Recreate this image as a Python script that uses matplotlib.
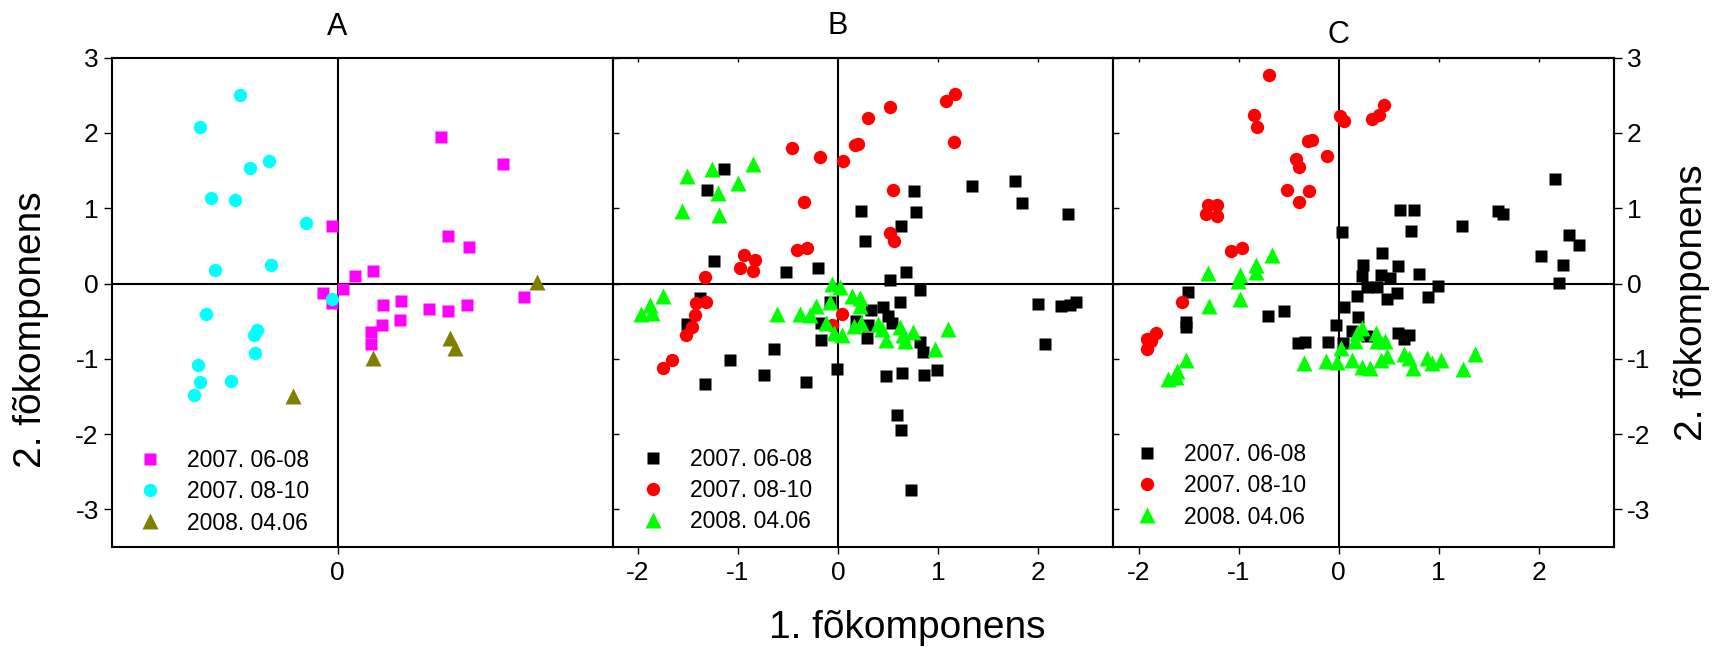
"""
PCA score plots (A, B, C) - three side by side panels, 1. vs 2. fokomponens.
"""
import matplotlib
matplotlib.use("Agg")
import matplotlib.pyplot as plt

plt.rcParams["font.family"] = ["Liberation Sans", "DejaVu Sans"]
plt.rcParams["axes.unicode_minus"] = False

LABELS = ["2007. 06-08", "2007. 08-10", "2008. 04.06"]
PANEL_TITLES = ["A", "B", "C"]
AXIS_LABEL_X = "1. fõkomponens"
AXIS_LABEL_Y = "2. fõkomponens"
Y_TICKS = [-3, -2, -1, 0, 1, 2, 3]
X_TICKS_A = [0]
X_TICKS_BC = [-2, -1, 0, 1, 2]

# --- panel A ---
a_sq_x = [1.03, 1.65, -0.06, 1.10, 1.31, 0.17, 0.35, 0.05, -0.15, -0.06,
          0.45, 0.63, 0.44, 0.62, 0.33, 0.33, 0.91, 1.10, 1.29, 1.86]
a_sq_y = [1.95, 1.59, 0.77, 0.63, 0.48, 0.10, 0.17, -0.07, -0.13, -0.26,
          -0.29, -0.23, -0.55, -0.49, -0.64, -0.80, -0.34, -0.37, -0.28, -0.18]
a_ci_x = [-0.98, -1.38, -0.88, -0.69, -1.27, -1.03, -0.32, -1.23, -0.67, -0.06,
          -1.32, -0.81, -0.84, -0.83, -1.40, -1.38, -1.07, -1.44]
a_ci_y = [2.51, 2.08, 1.54, 1.63, 1.14, 1.11, 0.81, 0.18, 0.25, -0.20,
          -0.41, -0.62, -0.69, -0.92, -1.08, -1.31, -1.29, -1.48]
a_tr_x = [1.99, 0.35, 1.12, 1.17, -0.45]
a_tr_y = [0.02, -0.99, -0.73, -0.85, -1.50]

# --- panel B ---
b_sq_x = [-1.14, -1.31, 0.76, 1.34, 1.77, 1.84, 2.30, 0.23, 0.78, 0.63,
          0.27, -1.24, -0.52, -0.20, 0.68, 0.52, 0.82, 0.62, -0.08, 2.00,
          2.23, 2.32, 2.38, 2.07, 0.33, 0.45, 0.50, 0.54, 0.30, 0.18,
          -0.17, -0.17, 0.29, 0.82, 0.85, -1.38, -1.51, -0.64, -1.08, -1.33,
          -0.74, -0.32, -0.01, 0.48, 0.64, 0.86, 0.99, 0.59, 0.63, 0.73]
b_sq_y = [1.52, 1.24, 1.23, 1.30, 1.36, 1.07, 0.93, 0.97, 0.95, 0.76,
          0.56, 0.30, 0.15, 0.21, 0.15, 0.05, -0.08, -0.24, -0.25, -0.27,
          -0.30, -0.28, -0.24, -0.80, -0.35, -0.31, -0.43, -0.52, -0.55, -0.50,
          -0.52, -0.75, -0.72, -0.78, -0.91, -0.19, -0.54, -0.87, -1.01, -1.33,
          -1.22, -1.31, -1.13, -1.23, -1.19, -1.21, -1.15, -1.75, -1.95, -2.74]
b_ci_x = [1.17, 1.08, 0.52, 0.30, 1.16, -0.46, -0.18, 0.05, 0.17, 0.20,
          0.55, -0.34, 0.52, 0.56, -0.41, -0.31, -0.94, -0.83, -0.98, -0.85,
          -1.33, -1.42, -1.32, -1.43, -1.46, -1.52, -1.66, -1.75, 0.04, -0.06]
b_ci_y = [2.52, 2.42, 2.35, 2.20, 1.88, 1.80, 1.68, 1.63, 1.84, 1.85,
          1.24, 1.08, 0.67, 0.56, 0.45, 0.47, 0.38, 0.31, 0.20, 0.16,
          0.09, -0.26, -0.24, -0.42, -0.58, -0.68, -1.02, -1.12, -0.40, -0.55]
b_tr_x = [-1.51, -1.26, -0.85, -1.00, -1.20, -1.56, -1.19, -1.75, -1.88, -1.86,
          -1.97, -0.61, -0.38, -0.28, -0.22, -0.06, 0.02, -0.08, 0.14, 0.22,
          0.22, -0.12, -0.04, 0.04, 0.16, 0.23, 0.40, 0.44, 0.48, 0.62,
          0.65, 0.75, 0.67, 0.97, 1.10]
b_tr_y = [1.43, 1.52, 1.59, 1.33, 1.20, 0.97, 0.91, -0.16, -0.29, -0.39,
          -0.40, -0.41, -0.40, -0.42, -0.30, 0.00, -0.04, -0.24, -0.16, -0.19,
          -0.30, -0.52, -0.66, -0.68, -0.56, -0.52, -0.54, -0.60, -0.75, -0.58,
          -0.68, -0.65, -0.77, -0.87, -0.61]

# --- panel C ---
c_sq_x = [2.16, 0.61, 0.75, 1.59, 1.64, 1.23, 0.72, 0.03, 2.30, 2.40,
          2.02, 2.24, 2.20, 0.43, 0.24, 0.59, 0.80, 0.23, 0.42, 0.51,
          0.28, 0.38, 0.99, 0.58, 0.48, 0.18, 0.89, -1.51, -1.53, -1.53,
          0.05, 0.19, -0.03, -0.71, -0.55, -0.41, -0.34, -0.11, 0.04, 0.13,
          0.28, 0.59, 0.65, 0.70]
c_sq_y = [1.39, 0.98, 0.98, 0.96, 0.92, 0.77, 0.70, 0.69, 0.64, 0.51,
          0.37, 0.24, 0.01, 0.40, 0.24, 0.23, 0.12, 0.10, 0.11, 0.07,
          -0.04, -0.05, -0.03, -0.12, -0.20, -0.17, -0.18, -0.11, -0.51, -0.58,
          -0.31, -0.45, -0.55, -0.43, -0.37, -0.79, -0.78, -0.78, -0.79, -0.63,
          -0.70, -0.66, -0.74, -0.68]
c_ci_x = [-0.70, -0.85, -0.82, 0.01, 0.05, 0.33, 0.40, 0.45, -0.31, -0.27,
          -0.43, -0.40, -0.12, -0.52, -0.30, -0.40, -1.31, -1.22, -1.33, -1.22,
          -1.08, -0.97, -1.57, -1.83, -1.88, -1.92, -1.92]
c_ci_y = [2.77, 2.24, 2.08, 2.22, 2.16, 2.18, 2.24, 2.37, 1.89, 1.91,
          1.65, 1.55, 1.70, 1.24, 1.23, 1.08, 1.04, 1.04, 0.93, 0.90,
          0.43, 0.47, -0.24, -0.66, -0.77, -0.87, -0.74]
c_tr_x = [-0.67, -0.83, -0.83, -0.99, -1.01, -1.31, -0.99, -1.30, -1.53, -1.62,
          -1.63, -1.71, 0.23, 0.18, 0.16, 0.37, 0.38, 0.46, 0.02, -0.35,
          -0.13, -0.02, 0.13, 0.23, 0.31, 0.42, 0.48, 0.65, 0.70, 0.74,
          0.88, 0.93, 1.02, 1.24, 1.36]
c_tr_y = [0.38, 0.24, 0.15, 0.11, 0.04, 0.14, -0.20, -0.30, -1.02, -1.16,
          -1.24, -1.27, -0.59, -0.66, -0.76, -0.66, -0.77, -0.77, -0.86, -1.05,
          -1.03, -1.04, -1.02, -1.11, -1.12, -1.01, -0.96, -0.94, -0.99, -1.12,
          -0.99, -1.06, -1.01, -1.13, -0.93]

COLORS_A = ["#ff00ff", "#00ffff", "#808000"]
COLORS_BC = ["#000000", "#ff0000", "#00ff00"]
MARKERS = [("s", 8.5), ("o", 9.6), ("^", 11.0)]

W, H = 1717, 653
XLIM = (-2.255, 2.75)
YLIM = (-3.5, 3.0)
PANEL_LEFT = [112, 612.5, 1113.3]
PANEL_W = 500.5
PANEL_TOP, PANEL_BOTTOM = 57.7, 547
TICK_FS = 19
LEG_FS = 16.5


def draw_panel(ax, series, colors, legend_xy):
    for (xs, ys), col, (mk, ms), lab in zip(series, colors, MARKERS, LABELS):
        ax.plot(xs, ys, ls="none", marker=mk, ms=ms, color=col, mec="none",
                label=lab, zorder=3)
    ax.axhline(0, color="k", lw=1.5, zorder=1)
    ax.axvline(0, color="k", lw=1.5, zorder=1)
    ax.set_xlim(*XLIM)
    ax.set_ylim(*YLIM)
    for sp in ax.spines.values():
        sp.set_linewidth(1.5)
    lx, ly = legend_xy
    ax.legend(loc="upper left", bbox_to_anchor=(lx / W, 1 - ly / H),
              bbox_transform=ax.figure.transFigure, frameon=False,
              fontsize=LEG_FS, handlelength=1.0, handletextpad=1.1,
              labelspacing=0.36, borderpad=0, borderaxespad=0, numpoints=1)


fig = plt.figure(figsize=(W / 100, H / 100), dpi=100)
axes = []
for left in PANEL_LEFT:
    axes.append(fig.add_axes([left / W, 1 - PANEL_BOTTOM / H, PANEL_W / W,
                              (PANEL_BOTTOM - PANEL_TOP) / H]))
ax_a, ax_b, ax_c = axes

draw_panel(ax_a, [(a_sq_x, a_sq_y), (a_ci_x, a_ci_y), (a_tr_x, a_tr_y)],
           COLORS_A, (139, 449))
draw_panel(ax_b, [(b_sq_x, b_sq_y), (b_ci_x, b_ci_y), (b_tr_x, b_tr_y)],
           COLORS_BC, (642, 448))
draw_panel(ax_c, [(c_sq_x, c_sq_y), (c_ci_x, c_ci_y), (c_tr_x, c_tr_y)],
           COLORS_BC, (1136, 443))

# panel A: labelled y axis on the left, single x tick
ax_a.set_yticks(Y_TICKS)
ax_a.set_xticks(X_TICKS_A)
ax_a.tick_params(axis="y", direction="out", length=6, width=1,
                 labelsize=TICK_FS, pad=3.5)
ax_a.tick_params(axis="x", direction="out", length=5, width=1,
                 labelsize=TICK_FS, pad=5)

for ax in (ax_b, ax_c):
    ax.set_xticks(X_TICKS_BC)
    ax.set_yticks(Y_TICKS)
    ax.tick_params(axis="x", direction="out", length=5, width=1,
                   labelsize=TICK_FS, pad=5)
    ax.tick_params(axis="y", direction="in", length=4, width=1,
                   labelleft=False)
    top = ax.secondary_xaxis("top")
    top.set_xticks([-2, -1, 1, 2])
    top.tick_params(direction="in", length=3, width=1, labeltop=False)
    top.spines["top"].set_linewidth(1.5)

right = ax_c.secondary_yaxis("right")
right.set_yticks(Y_TICKS)
right.tick_params(direction="out", length=6, width=1, labelsize=TICK_FS,
                  pad=3.5)
right.spines["right"].set_linewidth(1.5)

# titles and axis labels
for ax, title, ty in zip(axes, PANEL_TITLES, [27, 26, 35]):
    fig.text(ax.get_position().x0 + 225.5 / W, 1 - ty / H, title,
             fontsize=22, ha="center", va="center")
fig.text(907.5 / W, 1 - 628 / H, AXIS_LABEL_X, fontsize=28,
         ha="center", va="center")
fig.text(31 / W, 1 - 330 / H, AXIS_LABEL_Y, fontsize=28, rotation=90,
         ha="center", va="center")
fig.text(1692 / W, 1 - 303 / H, AXIS_LABEL_Y, fontsize=28, rotation=90,
         ha="center", va="center")

fig.savefig("out.png", dpi=100)
